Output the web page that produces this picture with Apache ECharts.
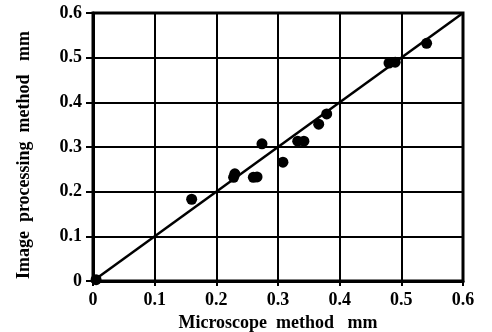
<!DOCTYPE html>
<html>
<head>
<meta charset="utf-8">
<script src="https://cdn.jsdelivr.net/npm/echarts@6/dist/echarts.min.js"></script>
<style>
  html, body { margin: 0; padding: 0; background: #fff; }
  #chart { width: 492px; height: 332px; }
</style>
</head>
<body>
<div id="chart"></div>
<script>
// measured pairs (mm)
const microscope = [0.005, 0.16, 0.228, 0.23, 0.26, 0.266, 0.274, 0.308, 0.332, 0.342, 0.366, 0.379, 0.48, 0.49, 0.541];
const imageProc  = [0.003, 0.183, 0.232, 0.24, 0.232, 0.233, 0.307, 0.266, 0.313, 0.313, 0.351, 0.374, 0.488, 0.49, 0.532];

// 1:1 reference line
const lineX = [0, 0.6];
const lineY = [0, 0.6];

const ticks = [0, 0.1, 0.2, 0.3, 0.4, 0.5, 0.6];

const font = "'Liberation Serif', 'DejaVu Serif', serif";
const fmt = (v) => (v === 0 ? "0" : v.toFixed(1));

const chart = echarts.init(document.getElementById("chart"));

chart.setOption({
  animation: false,
  grid: {
    left: 93,
    right: 29,
    top: 13,
    bottom: 51,
    containLabel: false,
    outerBoundsMode: "none",
    show: true,
    borderColor: "#000",
    borderWidth: 3,
  },
  xAxis: {
    type: "value",
    min: ticks[0],
    max: ticks[ticks.length - 1],
    interval: 0.1,
    name: "Microscope  method   mm",
    nameLocation: "middle",
    nameGap: 32,
    nameTextStyle: { color: "#000", fontFamily: font, fontSize: 18, fontWeight: "bold" },
    axisLine: { lineStyle: { color: "#000", width: 3 } },
    axisTick: { show: true, length: 5, lineStyle: { color: "#000", width: 2 } },
    axisLabel: { color: "#000", fontFamily: font, fontSize: 18, fontWeight: "bold", margin: 10, formatter: fmt },
    splitLine: { show: true, lineStyle: { color: "#000", width: 2 } },
  },
  yAxis: {
    type: "value",
    min: ticks[0],
    max: ticks[ticks.length - 1],
    interval: 0.1,
    name: "Image  processing  method   mm",
    nameLocation: "middle",
    nameGap: 60,
    nameTextStyle: { color: "#000", fontFamily: font, fontSize: 18, fontWeight: "bold", padding: [0, 16, 0, 0] },
    axisLine: { lineStyle: { color: "#000", width: 3 } },
    axisTick: { show: true, length: 7, lineStyle: { color: "#000", width: 2 } },
    axisLabel: { color: "#000", fontFamily: font, fontSize: 18, fontWeight: "bold", margin: 11, formatter: fmt },
    splitLine: { show: true, lineStyle: { color: "#000", width: 2 } },
  },
  series: [
    {
      type: "line",
      data: lineX.map((x, i) => [x, lineY[i]]),
      symbol: "none",
      lineStyle: { color: "#000", width: 2.5 },
      z: 3,
    },
    {
      type: "scatter",
      data: microscope.map((x, i) => [x, imageProc[i]]),
      symbol: "circle",
      symbolSize: 11,
      itemStyle: { color: "#000", opacity: 1 },
      z: 4,
    },
  ],
});
</script>
</body>
</html>
